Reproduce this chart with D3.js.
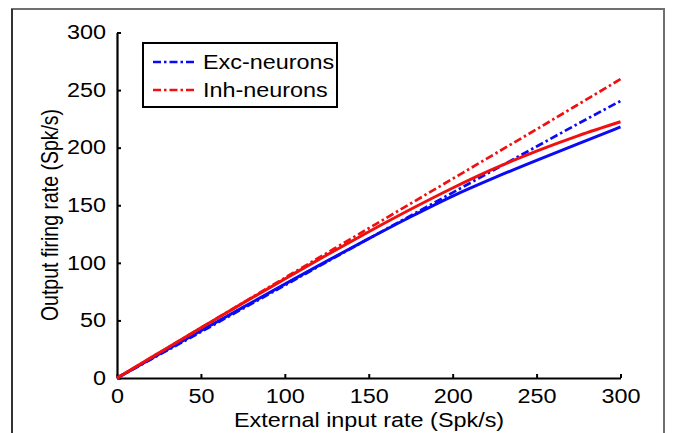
<!DOCTYPE html>
<html lang="en">
<head>
<meta charset="utf-8" />
<title>Output vs input rate</title>
<script src="https://cdnjs.cloudflare.com/ajax/libs/d3/7.8.5/d3.min.js"></script>
<style>
  body { margin: 0; background: #fff; }
  text { font-family: "Liberation Sans", Arial, sans-serif; fill: #000; }
</style>
</head>
<body>
<div id="chart"></div>
<script>
// input rate (Spk/s)
var inputRate = [0, 25, 50, 75, 100, 125, 150, 175, 200, 225, 250, 275, 300];
// output firing rates (Spk/s)
var excSolid = [0, 20.6, 41, 61.3, 81.5, 101.5, 121, 140, 158, 174, 189, 203.5, 218];
var inhSolid = [0, 21.8, 43.5, 65, 86, 106.8, 127, 146.5, 165, 182, 197, 210.5, 222.5];
var excDashDot = [0, 20, 40, 60.3, 80.5, 100.8, 121, 141, 161, 181, 201, 221, 240.5];
var inhDashDot = [0, 21.7, 43.5, 65.3, 87, 108.5, 130, 151.5, 173, 194.5, 216, 237.7, 259.5];
var legendLabels = ["Exc-neurons", "Inh-neurons"];
var xTicks = [0, 50, 100, 150, 200, 250, 300];
var yTicks = [0, 50, 100, 150, 200, 250, 300];

var width = 673, height = 433;
var sx = 1.2; // picture is stretched sideways

var svg = d3.select("#chart").append("svg")
    .attr("width", width)
    .attr("height", height);

// outer frame
svg.append("rect")
    .attr("x", 12).attr("y", 9)
    .attr("width", 652).attr("height", 440)
    .attr("fill", "none")
    .attr("stroke", "#6f6f6f")
    .attr("stroke-width", 2);
svg.append("line")
    .attr("x1", 12).attr("x2", 12).attr("y1", 9).attr("y2", height)
    .attr("stroke", "#333").attr("stroke-width", 2);

var x = d3.scaleLinear().domain([0, 300]).range([117, 620.5]);
var y = d3.scaleLinear().domain([0, 300]).range([378, 32.5]);

var xAxis = svg.append("g")
    .attr("transform", "translate(0," + y(0) + ")")
    .call(d3.axisBottom(x).tickValues(xTicks).tickSizeInner(-4).tickSizeOuter(0).tickPadding(11));
var yAxis = svg.append("g")
    .attr("transform", "translate(" + x(0) + ",0)")
    .call(d3.axisLeft(y).tickValues(yTicks).tickSizeInner(-4).tickSizeOuter(0).tickPadding(9.2));

[xAxis, yAxis].forEach(function(ax) {
  ax.select(".domain").attr("stroke", "#000").attr("stroke-width", 2.2);
  ax.selectAll(".tick line").attr("stroke", "#000").attr("stroke-width", 2);
  ax.selectAll(".tick text")
      .attr("font-size", 19.5)
      .attr("font-family", null)
      .attr("fill", "#000")
      .attr("transform", "scale(" + sx + ",1)");
});

// curves
var series = [
  {values: excSolid, color: "#0a0af5", dash: null, w: 3},
  {values: excDashDot, color: "#0a0af5", dash: "8,3,2.5,3", w: 2.7},
  {values: inhSolid, color: "#f01010", dash: null, w: 3},
  {values: inhDashDot, color: "#f01010", dash: "8,3,2.5,3", w: 2.7}
];

var line = d3.line()
    .x(function(d, i) { return x(inputRate[i]); })
    .y(function(d) { return y(d); })
    .curve(d3.curveMonotoneX);

svg.selectAll("path.curve")
    .data(series)
    .enter().append("path")
    .attr("class", "curve")
    .attr("d", function(d) { return line(d.values); })
    .attr("fill", "none")
    .attr("stroke", function(d) { return d.color; })
    .attr("stroke-width", function(d) { return d.w; })
    .attr("stroke-dasharray", function(d) { return d.dash; });

// axis titles
svg.append("text")
    .attr("transform", "translate(369,427) scale(" + sx + ",1)")
    .attr("text-anchor", "middle")
    .attr("font-size", 19.5)
    .text("External input rate (Spk/s)");

svg.append("text")
    .attr("transform", "translate(58,215) rotate(-90) scale(1," + sx + ")")
    .attr("text-anchor", "middle")
    .attr("font-size", 19.5)
    .text("Output firing rate (Spk/s)");

// legend
var legend = svg.append("g");
legend.append("rect")
    .attr("x", 143).attr("y", 43)
    .attr("width", 194).attr("height", 64)
    .attr("fill", "#fff")
    .attr("stroke", "#000")
    .attr("stroke-width", 2);

var legendColors = ["#0a0af5", "#f01010"];
var item = legend.selectAll("g.item")
    .data(legendLabels)
    .enter().append("g")
    .attr("class", "item")
    .attr("transform", function(d, i) { return "translate(0," + (62 + i * 28) + ")"; });

item.append("line")
    .attr("x1", 153).attr("x2", 195)
    .attr("stroke", function(d, i) { return legendColors[i]; })
    .attr("stroke-width", 2.4)
    .attr("stroke-dasharray", "8,3,2.5,3");

item.append("text")
    .attr("transform", "translate(203,0) scale(" + sx + ",1)")
    .attr("dy", "0.36em")
    .attr("font-size", 19.5)
    .text(function(d) { return d; });
</script>
</body>
</html>
